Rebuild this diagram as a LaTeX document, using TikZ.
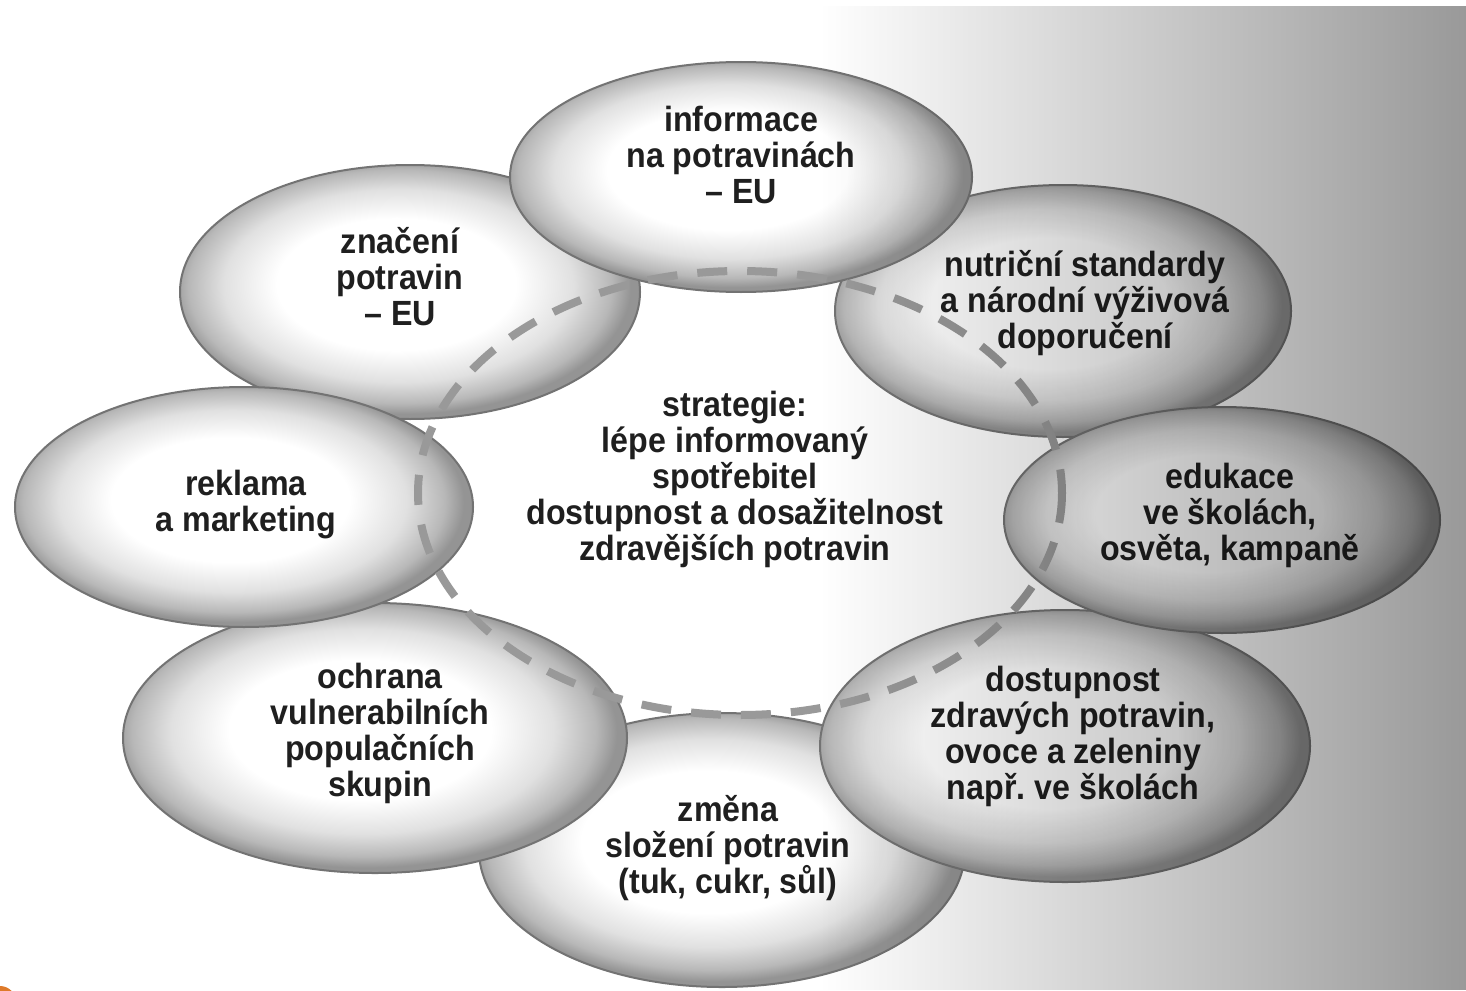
\documentclass[tikz,border=0pt]{standalone}
\usepackage{fontspec}
\setmainfont[FakeStretch=0.92]{Liberation Sans}
\usetikzlibrary{shapes.geometric,fadings}
\definecolor{cornerorange}{RGB}{222,122,42}
\pgfdeclareradialshading{ellsh}{\pgfpoint{-2bp}{2bp}}{color(0bp)=(white); color(13bp)=(white); color(19bp)=(black!12); color(23bp)=(black!28); color(25bp)=(black!42); color(50bp)=(black!42)}
\tikzfading[name=bgfade, left color=transparent!100, right color=transparent!0]
\begin{document}
\begin{tikzpicture}[x=0.5pt,y=-0.5pt,
  ell/.style={ellipse, draw=black!55, line width=1pt, shading=ellsh, inner sep=0pt, outer sep=0pt},
  lbl/.style={align=center, font=\bfseries\fontsize{17.5}{18}\selectfont, text=black!88, inner sep=0pt},
  ring/.style={draw=black!40, line width=4pt, dash pattern=on 15pt off 10pt}
]
\useasboundingbox (0,0) rectangle (1466,990);
\fill[white] (0,0) rectangle (1466,990);
% ellipses, bottom to top
\node[ell, minimum width=243pt, minimum height=137pt] (zmena) at (722,850) {};
\node[ell, minimum width=252pt, minimum height=135pt] (ochrana) at (375,738) {};
\node[ell, minimum width=245pt, minimum height=136pt] (dostup) at (1065,746) {};
\node[ell, minimum width=230pt, minimum height=127pt] (znaceni) at (410,292) {};
\node[ell, minimum width=229pt, minimum height=120pt] (reklama) at (244,507) {};
\node[ell, minimum width=228pt, minimum height=126pt] (nutri) at (1063,311) {};
\node[ell, minimum width=218pt, minimum height=113pt] (edukace) at (1222,520) {};
\node[ell, minimum width=231pt, minimum height=115pt] (info) at (741,177) {};
% dashed ring
\coordinate (rc) at (740,493);
\draw[ring] (rc) ellipse [x radius=322, y radius=222];
% texts
\node[lbl] (t1) at (741,155) {informace\\na potravinách\\– EU};
\node[lbl] (t8) at (400,277) {značení\\potravin\\– EU};
\node[lbl] (t2) at (1085,303) {nutriční standardy\\a národní výživová\\doporučení};
\node[lbl] (t3) at (1230,515) {edukace\\ve školách,\\osvěta, kampaně};
\node[lbl] (t4) at (1073,736) {dostupnost\\zdravých potravin,\\ovoce a zeleniny\\např.\ ve školách};
\node[lbl] (t5) at (728,848) {změna\\složení potravin\\(tuk, cukr, sůl)};
\node[lbl] (t6) at (380,733) {ochrana\\vulnerabilních\\populačních\\skupin};
\node[lbl] (t7) at (246,505) {reklama\\a marketing};
\node[lbl] (tc) at (735,479) {strategie:\\lépe informovaný\\spotřebitel\\dostupnost a dosažitelnost\\zdravějších potravin};
% grey tint towards the right
\fill[black, fill opacity=0.40, path fading=bgfade] (820,6) rectangle (1466,990);
% orange corner
\fill[cornerorange] (0,1002) circle [radius=16];
\end{tikzpicture}
\end{document}
